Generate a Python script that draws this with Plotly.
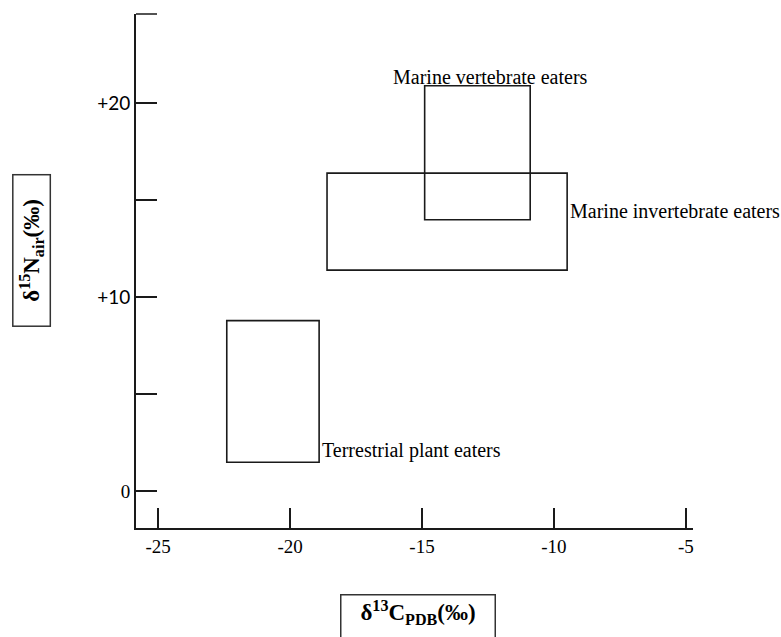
import plotly.graph_objects as go

# ---- data ----
groups = ["Terrestrial plant eaters", "Marine invertebrate eaters", "Marine vertebrate eaters"]
c13_min = [-22.4, -18.6, -14.9]
c13_max = [-18.9, -9.5, -10.9]
n15_min = [1.5, 11.4, 14.0]
n15_max = [8.8, 16.4, 20.9]

x_tick_vals = [-25, -20, -15, -10, -5]
x_tick_text = ["-25", "-20", "-15", "-10", "-5"]
y_tick_vals = [0, 10, 20]
y_tick_text = ["0", "<span style=\"font-family:Lato\">+10</span>",
               "<span style=\"font-family:Lato\">+20</span>"]
y_minor_vals = [5, 15]

x_range = [-25.84, -4.73]
y_range = [-1.89, 24.6]

LINE = "#1a1a1a"
SERIF = "Liberation Serif"
LABEL_SIZE = 20

fig = go.Figure()

# invisible trace to set up axes
fig.add_trace(go.Scatter(x=c13_min + c13_max, y=n15_min + n15_max, mode="markers",
                         marker=dict(opacity=0), hoverinfo="skip", showlegend=False))

shapes = []
for i in range(len(groups)):
    shapes.append(dict(type="rect", xref="x", yref="y",
                       x0=c13_min[i], x1=c13_max[i], y0=n15_min[i], y1=n15_max[i],
                       line=dict(color=LINE, width=1.6), fillcolor="rgba(0,0,0,0)"))
# short cap at the top of the y axis
shapes.append(dict(type="line", xref="paper", yref="paper", x0=0, x1=21 / 557, y0=1, y1=1,
                   line=dict(color=LINE, width=1.5)))

annotations = []
# Terrestrial plant eaters: right of the box, at its bottom
annotations.append(dict(x=c13_max[0], y=n15_min[0], xref="x", yref="y", text=groups[0],
                        showarrow=False, xanchor="left", yanchor="bottom", xshift=1, yshift=-2,
                        font=dict(family=SERIF, size=LABEL_SIZE, color="black")))
# Marine invertebrate eaters: right of the box
annotations.append(dict(x=c13_max[1], y=n15_min[2] + 0.45, xref="x", yref="y", text=groups[1],
                        showarrow=False, xanchor="left", yanchor="middle", xshift=1,
                        font=dict(family=SERIF, size=LABEL_SIZE, color="black")))
# Marine vertebrate eaters: above the box
annotations.append(dict(x=(c13_min[2] + c13_max[2]) / 2, y=n15_max[2], xref="x", yref="y",
                        text=groups[2], showarrow=False, xanchor="center", yanchor="bottom",
                        xshift=13, yshift=-4,
                        font=dict(family=SERIF, size=LABEL_SIZE, color="black")))

# axis titles in boxes
annotations.append(dict(x=0.506, y=-0.1284, xref="paper", yref="paper",
                        text="<b>δ<sup>13</sup>C<sub>PDB</sub>(‰)</b>", showarrow=False,
                        xanchor="center", yanchor="top", width=151, height=56, valign="top",
                        bordercolor="#333", borderwidth=1.5, borderpad=1,
                        font=dict(family=SERIF, size=23, color="black")))
annotations.append(dict(x=-0.1867, y=0.539, xref="paper", yref="paper",
                        text="<b>δ<sup>15</sup>N<sub>air</sub>(‰)</b>", showarrow=False,
                        textangle=-90, xanchor="center", yanchor="middle", width=150, height=36,
                        bordercolor="#333", borderwidth=1.5, borderpad=0,
                        font=dict(family=SERIF, size=23, color="black")))

fig.update_layout(
    width=781, height=637,
    margin=dict(l=136, r=88, t=14, b=109, autoexpand=False),
    paper_bgcolor="white", plot_bgcolor="white",
    shapes=shapes, annotations=annotations,
    showlegend=False,
    xaxis=dict(range=x_range, tickvals=x_tick_vals, ticktext=x_tick_text,
               ticks="inside", ticklen=20, tickwidth=1.5, tickcolor=LINE,
               showline=True, linecolor=LINE, linewidth=2, showgrid=False, zeroline=False,
               tickfont=dict(family=SERIF, size=19, color="black")),
    yaxis=dict(range=y_range, tickvals=y_tick_vals, ticktext=y_tick_text,
               ticks="inside", ticklen=21, tickwidth=1.5, tickcolor=LINE,
               minor=dict(tickvals=y_minor_vals, ticks="inside", ticklen=21, tickwidth=1.5,
                          tickcolor=LINE, showgrid=False),
               showline=True, linecolor=LINE, linewidth=2, showgrid=False, zeroline=False,
               tickfont=dict(family=SERIF, size=19, color="black")),
)

fig.write_html("out.html")
